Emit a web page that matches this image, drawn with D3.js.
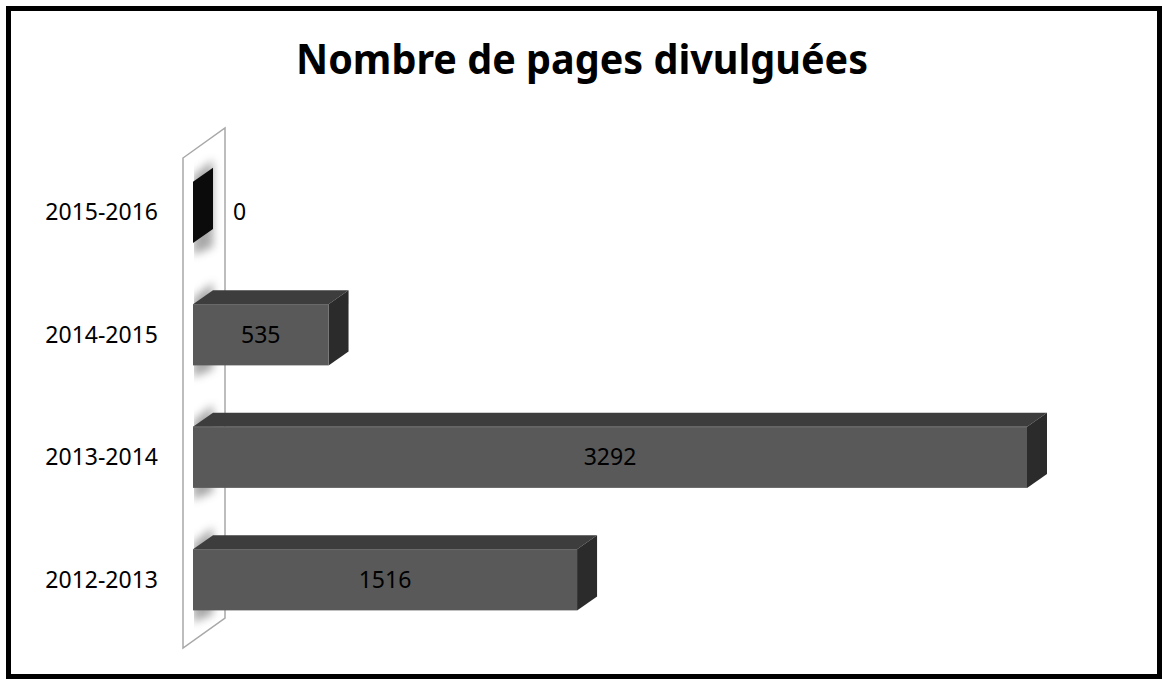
<!DOCTYPE html>
<html>
<head>
<meta charset="utf-8">
<script src="https://cdn.jsdelivr.net/npm/d3@7"></script>
<style>
  body { margin: 0; background: #fff; }
  svg { display: block; }
</style>
</head>
<body>
<svg id="chart" width="1162" height="680"></svg>
<script>
// data
const titleText = 'Nombre de pages divulguées'
const periods = ['2015-2016', '2014-2015', '2013-2014', '2012-2013']
const pages = [0, 535, 3292, 1516]

const W = 1162
const H = 680
const svg = d3.select('#chart')

// 3d depth of the bars
const dx = 20
const dy = -14

const x = d3.scaleLinear().domain([0, 3292]).range([193, 1027])
const y = d3.scaleBand().domain(periods).range([151, 641]).paddingInner(0.5).paddingOuter(0.25)

const pts = a => a.map(q => q.join(',')).join(' ')

const defs = svg.append('defs')
defs.append('filter').attr('id', 'blur')
  .attr('x', '-50%').attr('y', '-50%').attr('width', '200%').attr('height', '200%')
  .append('feGaussianBlur').attr('stdDeviation', 4)

// wall shape
const wallPts = [[183, 158], [225, 128], [225, 618], [183, 648]]
defs.append('clipPath').attr('id', 'wallclip')
  .append('polygon').attr('points', pts([[194, 151], [224, 129], [224, 617], [194, 640]]))

svg.append('rect')
  .attr('x', 8.5).attr('y', 8.5).attr('width', W - 11).attr('height', H - 12)
  .attr('fill', '#fff').attr('stroke', '#000').attr('stroke-width', 5)

svg.append('text')
  .attr('x', 582).attr('y', 74)
  .attr('text-anchor', 'middle')
  .attr('font-family', 'Noto Sans, sans-serif')
  .attr('font-weight', 'bold')
  .attr('font-size', 42)
  .attr('fill', '#000')
  .text(titleText)
  .each(function () {
    const len = this.getComputedTextLength()
    if (len > 572) d3.select(this).attr('textLength', 572).attr('lengthAdjust', 'spacingAndGlyphs')
  })

svg.append('polygon')
  .attr('points', pts(wallPts))
  .attr('fill', '#fff').attr('stroke', '#a8a8a8').attr('stroke-width', 1.5)

// shadows cast on the wall
const shadows = svg.append('g').attr('clip-path', 'url(#wallclip)')
periods.forEach((p, i) => {
  const t = y(p)
  const b = t + y.bandwidth()
  shadows.append('polygon')
    .attr('points', pts([[193, t - 6], [213, t - 22], [213, b + 4], [193, b + 12]]))
    .attr('fill', '#8c8c8c')
    .attr('opacity', 0.75)
    .attr('filter', 'url(#blur)')
})

const bars = svg.append('g')
periods.forEach((p, i) => {
  const v = pages[i]
  const x0 = x(0)
  const x1 = x(v)
  const t = y(p)
  const b = t + y.bandwidth()
  const g = bars.append('g')
  if (v === 0) {
    g.append('polygon')
      .attr('points', pts([[x0, t], [x0 + dx, t + dy], [x0 + dx, b + dy], [x0, b]]))
      .attr('fill', '#0b0b0b')
    return
  }
  // top face
  g.append('polygon')
    .attr('points', pts([[x0, t], [x0 + dx, t + dy], [x1 + dx, t + dy], [x1, t]]))
    .attr('fill', '#3d3d3d')
  // right face
  g.append('polygon')
    .attr('points', pts([[x1, t], [x1 + dx, t + dy], [x1 + dx, b + dy], [x1, b]]))
    .attr('fill', '#2b2b2b')
  // front face
  g.append('rect')
    .attr('x', x0).attr('y', t)
    .attr('width', x1 - x0).attr('height', y.bandwidth())
    .attr('fill', '#595959')
  g.append('line')
    .attr('x1', x0).attr('x2', x1).attr('y1', t + 0.5).attr('y2', t + 0.5)
    .attr('stroke', '#6a6a6a').attr('stroke-width', 1)
})

// category labels
svg.append('g').selectAll('text')
  .data(periods)
  .join('text')
  .attr('x', 158)
  .attr('y', d => y(d) + y.bandwidth() / 2 + 8)
  .attr('text-anchor', 'end')
  .attr('font-family', 'Noto Sans, sans-serif')
  .attr('font-size', 23)
  .attr('fill', '#000')
  .text(d => d)

// value labels
svg.append('g').selectAll('text')
  .data(periods)
  .join('text')
  .attr('x', (d, i) => pages[i] === 0 ? 233 : (x(0) + x(pages[i])) / 2)
  .attr('y', d => y(d) + y.bandwidth() / 2 + 8)
  .attr('text-anchor', (d, i) => pages[i] === 0 ? 'start' : 'middle')
  .attr('font-family', 'Noto Sans, sans-serif')
  .attr('font-size', 23)
  .attr('fill', '#000')
  .text((d, i) => pages[i])
</script>
</body>
</html>
